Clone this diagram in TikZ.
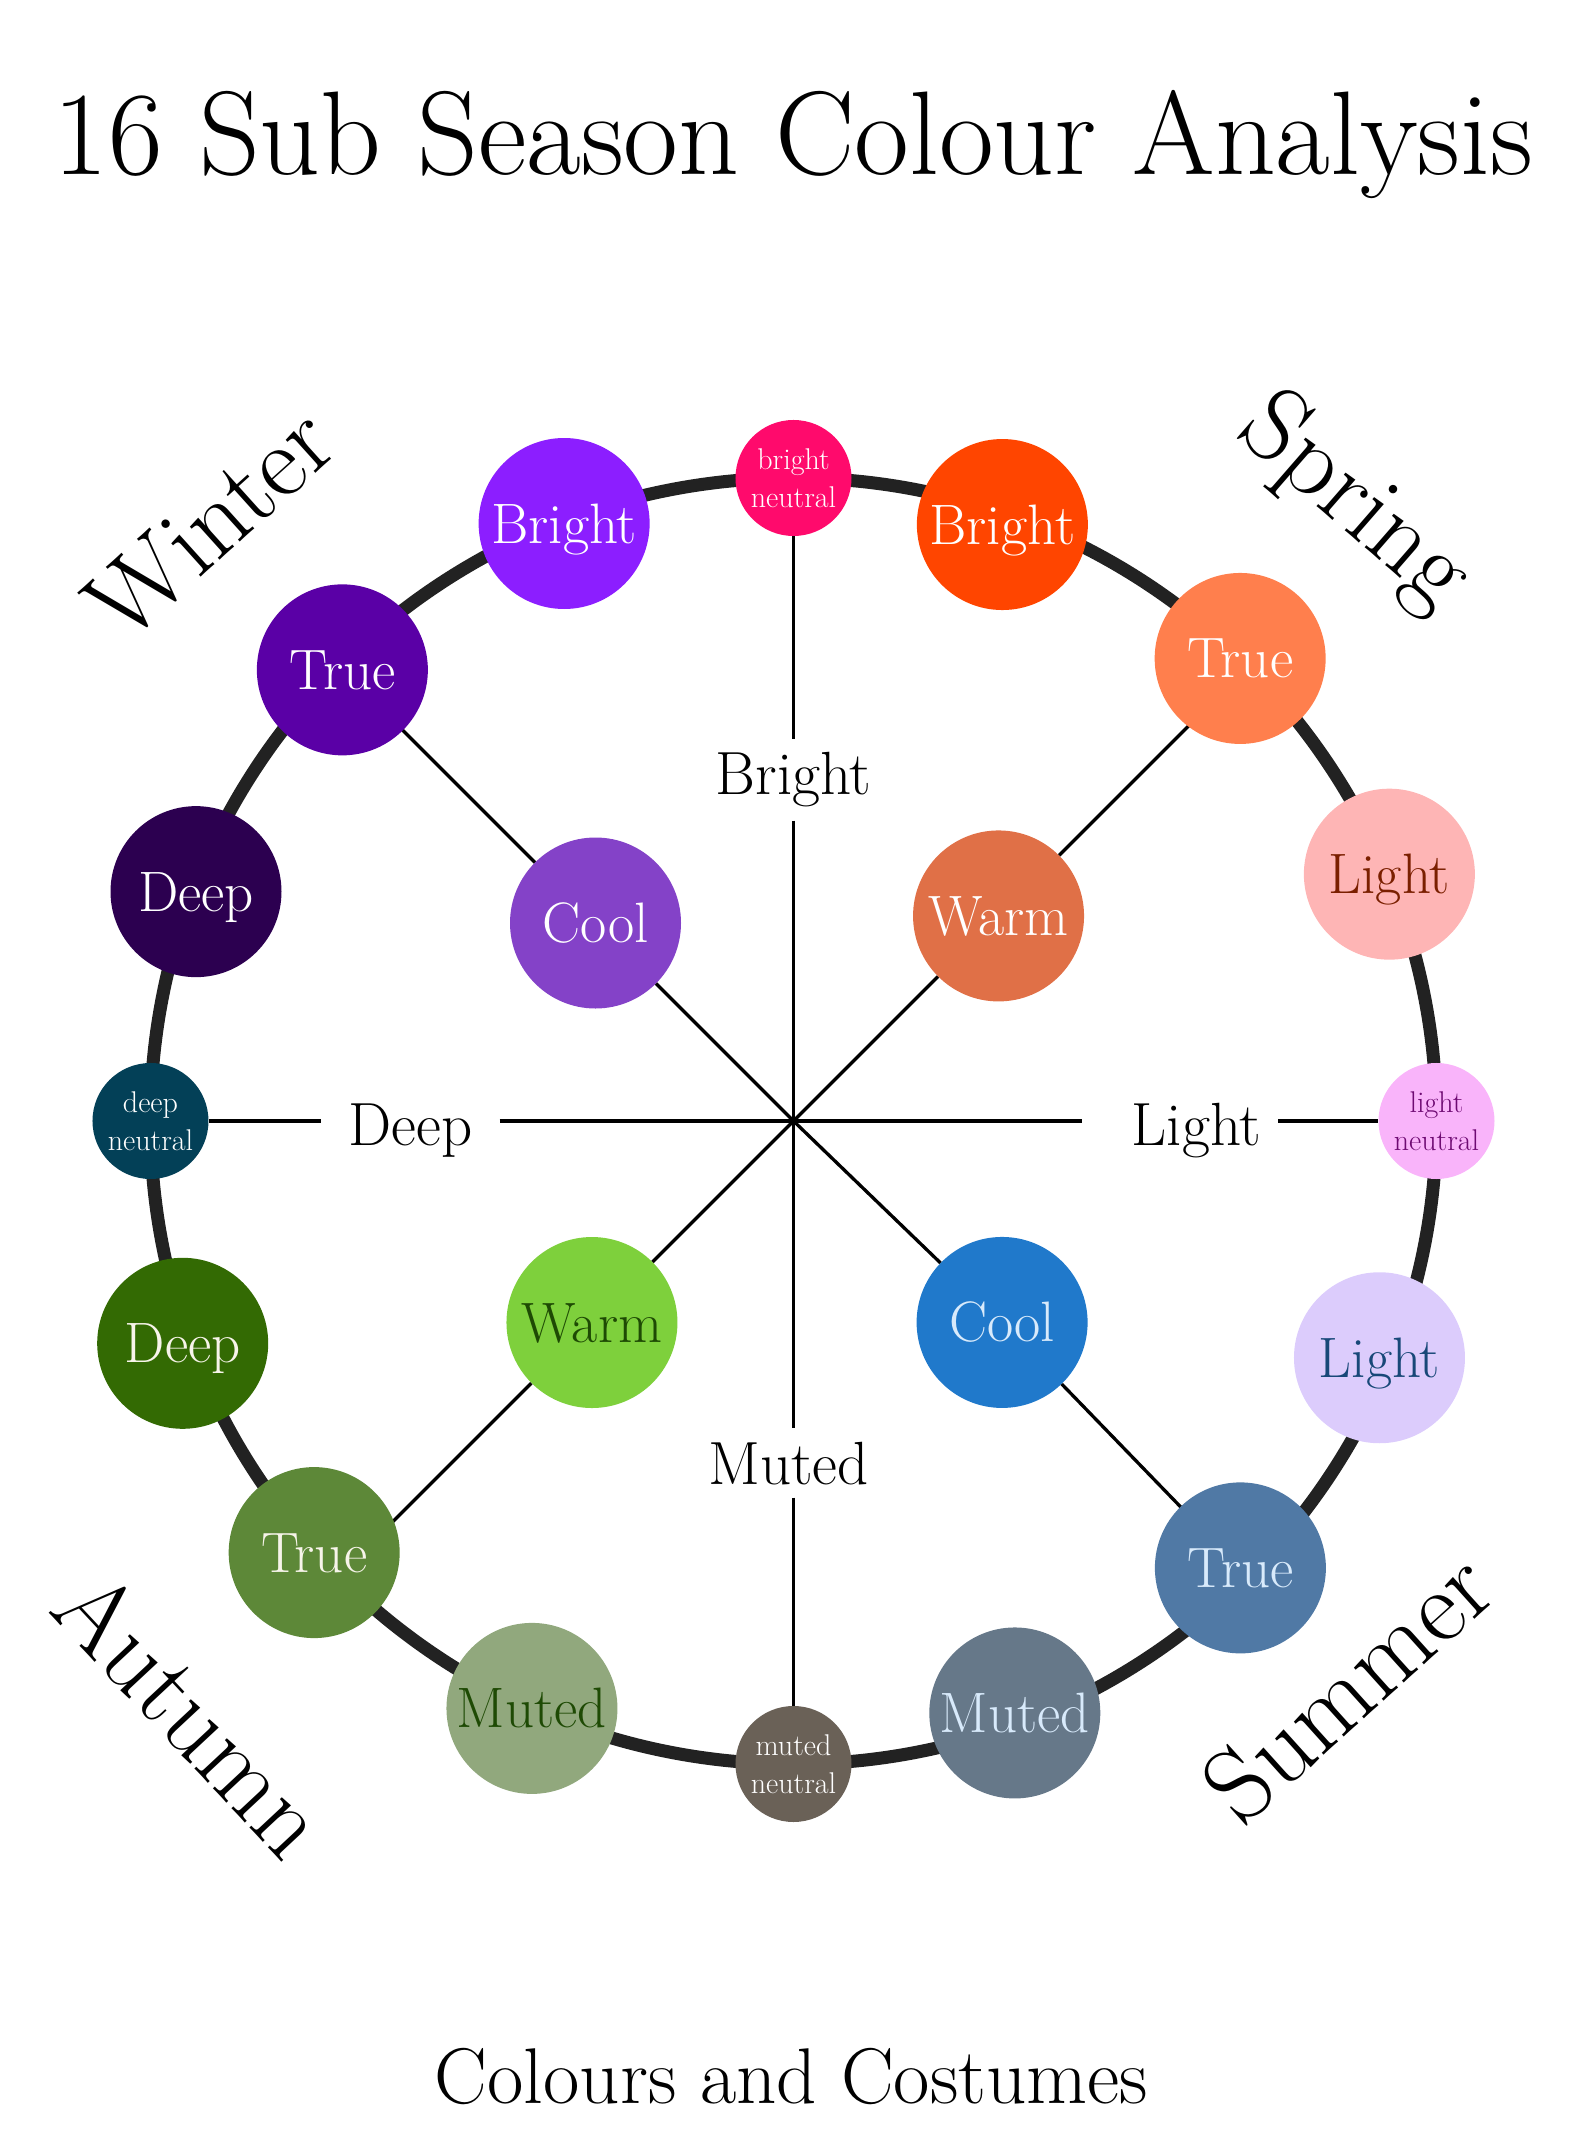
\documentclass[tikz,border=0pt]{standalone}
\usepackage{tikz}

\definecolor{ringgrey}{HTML}{222222}
\definecolor{brightneutral}{HTML}{FF0A6C}
\definecolor{winterbright}{HTML}{8C1EFF}
\definecolor{wintertrue}{HTML}{5A00A6}
\definecolor{winterdeep}{HTML}{2C0050}
\definecolor{wintercool}{HTML}{8442C8}
\definecolor{deepneutral}{HTML}{034057}
\definecolor{autumndeep}{HTML}{336A03}
\definecolor{autumntrue}{HTML}{5D8838}
\definecolor{autumnmuted}{HTML}{91A87D}
\definecolor{autumnwarm}{HTML}{7ED03C}
\definecolor{mutedneutral}{HTML}{6A6157}
\definecolor{summermuted}{HTML}{667889}
\definecolor{summertrue}{HTML}{5079A5}
\definecolor{summerlight}{HTML}{DCCCFC}
\definecolor{summercool}{HTML}{2079CB}
\definecolor{lightneutral}{HTML}{F9B4FA}
\definecolor{springlight}{HTML}{FEB5B5}
\definecolor{springtrue}{HTML}{FF7F4D}
\definecolor{springbright}{HTML}{FF4500}
\definecolor{springwarm}{HTML}{E07047}
\definecolor{paleblue}{HTML}{D8EAFB}
\definecolor{rusttext}{HTML}{7A1F00}
\definecolor{plumtext}{HTML}{6E0A72}
\definecolor{navytext}{HTML}{184878}
\definecolor{mossgreen}{HTML}{1E4A04}
\definecolor{cream}{HTML}{F7F4EA}

\begin{document}
\begin{tikzpicture}[x=1pt,y=1pt,
  swatch/.style={circle, minimum size=171pt, inner sep=0pt, text height=39pt, text depth=0pt, font=\fontsize{57}{62}\selectfont},
  neutraldot/.style={circle, minimum size=116pt, inner sep=0pt, align=center, font=\fontsize{30}{38}\selectfont},
  axislabel/.style={anchor=base, inner xsep=27pt, inner ysep=13pt, font=\fontsize{61}{66}\selectfont},
  season/.style={font=\fontsize{104}{110}\selectfont},
  spoke/.style={line width=3.3pt}]
\useasboundingbox (-793.5,-1028) rectangle (793.5,1121);
\coordinate (c) at (0,0);
\draw[ringgrey, line width=13pt] (c) circle (643);

\node[anchor=base, font=\fontsize{119}{130}\selectfont] (title) at (0,946) {16 Sub Season Colour Analysis};

\node[swatch, fill=wintercool, text=white] (wcool) at (135:280) {Cool};
\node[swatch, fill=springwarm, text=white] (swarm) at (45:290) {Warm};
\node[swatch, fill=autumnwarm, text=mossgreen] (awarm) at (225:285) {Warm};
\node[swatch, fill=summercool, text=paleblue] (mcool) at (-44:290) {Cool};

\coordinate (wend) at (135:600);
\coordinate (send) at (45:600);
\coordinate (aend) at (225:600);
\coordinate (mend) at (-45:600);
\draw[spoke] (wend) -- (wcool) -- (c);
\draw[spoke] (send) -- (swarm) -- (c);
\draw[spoke] (aend) -- (awarm) -- (c);
\draw[spoke] (mend) -- (mcool) -- (c);

\node[neutraldot, fill=brightneutral, text=white] (nbright) at (90:643) {bright\\neutral};
\node[swatch, fill=springbright, text=white] (sbright) at (70.7:632) {Bright};
\node[swatch, fill=springtrue, text=white] (strue) at (46:643) {True};
\node[swatch, fill=springlight, text=rusttext] (slight) at (22.5:645) {Light};
\node[neutraldot, fill=lightneutral, text=plumtext] (nlight) at (0:643) {light\\neutral};
\node[swatch, fill=summerlight, text=navytext] (mlight) at (-22:632) {Light};
\node[swatch, fill=summertrue, text=paleblue] (mtrue) at (-45:632) {True};
\node[swatch, fill=summermuted, text=paleblue] (mmuted) at (-69.5:632) {Muted};
\node[neutraldot, fill=mutedneutral, text=white] (nmuted) at (-90:643) {muted\\neutral};
\node[swatch, fill=autumnmuted, text=mossgreen] (amuted) at (-114:643) {Muted};
\node[swatch, fill=autumntrue, text=cream] (atrue) at (-138:645) {True};
\node[swatch, fill=autumndeep, text=cream] (adeep) at (-160:650) {Deep};
\node[neutraldot, fill=deepneutral, text=white] (ndeep) at (180:643) {deep\\neutral};
\node[swatch, fill=winterdeep, text=white] (wdeep) at (159:640) {Deep};
\node[swatch, fill=wintertrue, text=white] (wtrue) at (135:638) {True};
\node[swatch, fill=winterbright, text=white] (wbright) at (111:640) {Bright};

\node[axislabel] (bright) at (0,326) {Bright};
\draw[spoke] (nbright) -- (c |- bright.north);
\draw[spoke] (c |- bright.south) -- (c);
\node[axislabel] (muted) at (-5,-363) {Muted};
\draw[spoke] (c) -- (c |- muted.north);
\draw[spoke] (c |- muted.south) -- (nmuted);
\node[axislabel] (deep) at (-383,-24) {Deep};
\draw[spoke] (ndeep) -- (deep.west |- c);
\draw[spoke] (deep.east |- c) -- (c);
\node[axislabel, inner xsep=17pt] (light) at (403,-24) {Light};
\coordinate (lightgap) at ([xshift=-33pt]light.west);
\draw[spoke] (c) -- (lightgap |- c);
\draw[spoke] (light.east |- c) -- (nlight);

\node[season, rotate=42] (winter) at (-584,598) {Winter};
\node[season, rotate=-41] (spring) at (560,617) {Spring};
\node[season, rotate=42] (summer) at (554,-565) {Summer};
\node[season, rotate=-47] (autumn) at (-601,-592) {Autumn};

\node[anchor=base, font=\fontsize{79}{86}\selectfont] (brand) at (-2,-982) {Colours and Costumes};
\end{tikzpicture}
\end{document}
